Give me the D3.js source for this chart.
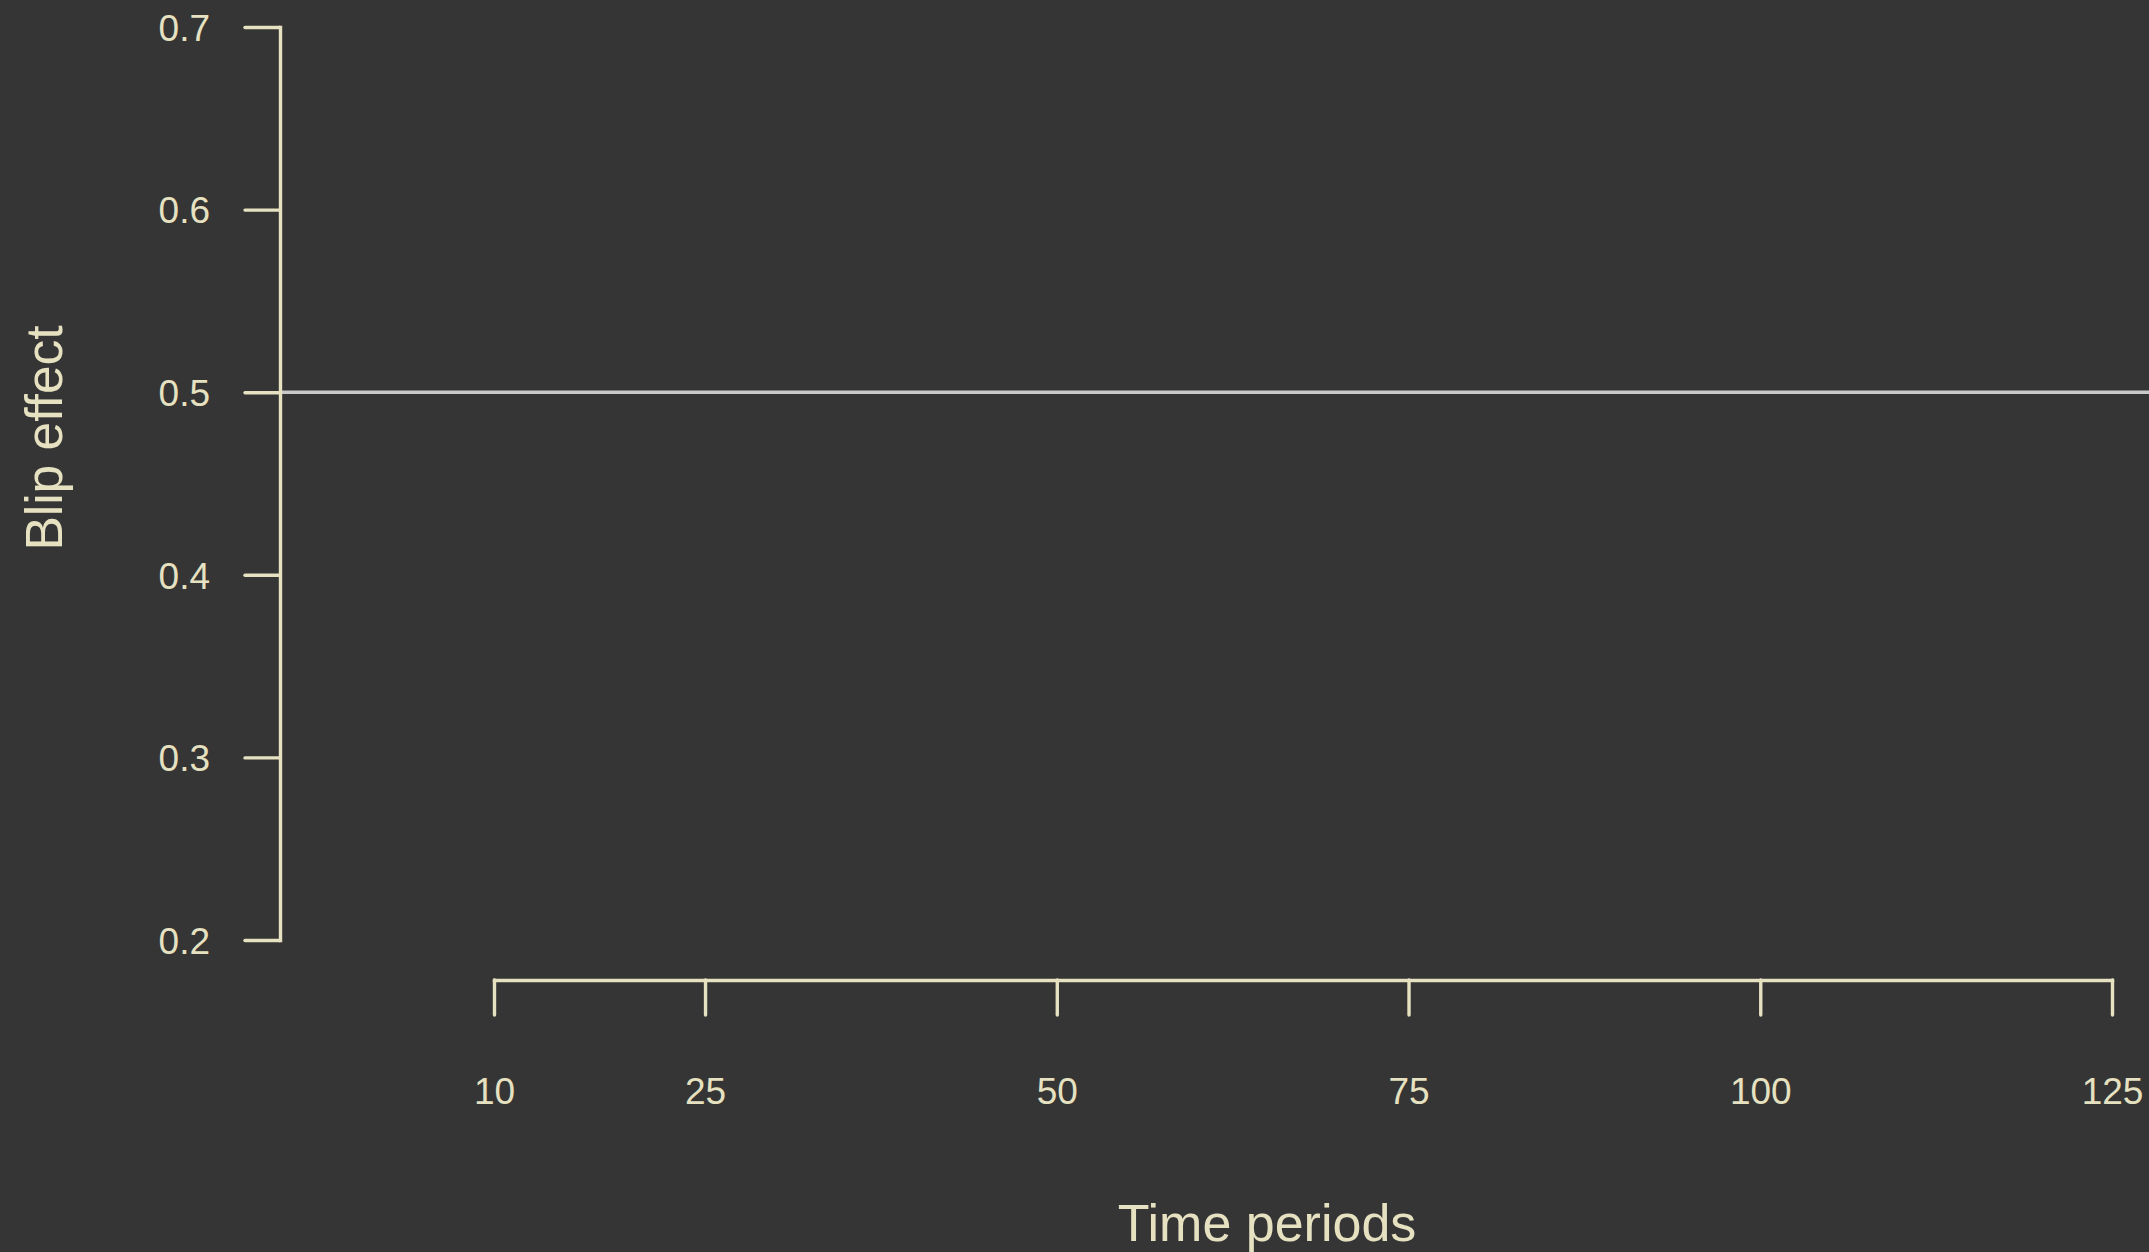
<!DOCTYPE html>
<html>
<head>
<meta charset="utf-8">
<script src="https://cdn.jsdelivr.net/npm/d3@7"></script>
<style>
  html, body { margin: 0; padding: 0; background: #353535; overflow: hidden; }
  svg { display: block; }
  text { font-family: "Liberation Sans", Arial, Helvetica, sans-serif; }
</style>
</head>
<body>
<svg id="chart" width="2149" height="1252"></svg>
<script>
// Axis ticks and the reference level
const xTicks = [10, 25, 50, 75, 100, 125];
const yTicks = [0.2, 0.3, 0.4, 0.5, 0.6, 0.7];
const yTickLabels = ["0.2", "0.3", "0.4", "0.5", "0.6", "0.7"];
const refLevel = [0.5];
const xTitle = "Time periods";
const yTitle = "Blip effect";

const W = 2149, H = 1252;
const ink = "#e6e1c0";
const refColor = "#c9c9c9";

const svg = d3.select("#chart");
svg.append("rect").attr("width", W).attr("height", H).attr("fill", "#353535");

const x = d3.scaleLinear().domain([10, 125]).range([494, 2112]);
const y = d3.scaleLinear().domain([0.2, 0.7]).range([940, 27]);

const yAxisX = 280;
const xAxisY = 980;

// Horizontal reference line
svg.selectAll("line.ref")
  .data(refLevel)
  .enter().append("line")
  .attr("class", "ref")
  .attr("x1", yAxisX).attr("x2", W)
  .attr("y1", d => y(d)).attr("y2", d => y(d))
  .attr("stroke", refColor)
  .attr("stroke-width", 3.5);

// Y axis
const gy = svg.append("g")
  .attr("transform", `translate(${yAxisX},0)`)
  .call(d3.axisLeft(y)
    .tickValues(yTicks)
    .tickFormat((d, i) => yTickLabels[i])
    .tickSize(35)
    .tickSizeOuter(0)
    .tickPadding(35));

// X axis
const gx = svg.append("g")
  .attr("transform", `translate(0,${xAxisY})`)
  .call(d3.axisBottom(x)
    .tickValues(xTicks)
    .tickFormat(d3.format("d"))
    .tickSize(35)
    .tickSizeOuter(0));

[gy, gx].forEach(g => {
  g.select(".domain").attr("stroke", ink).attr("stroke-width", 3.4).attr("stroke-linecap", "square");
  g.selectAll(".tick line").attr("stroke", ink).attr("stroke-width", 3.4).attr("stroke-linecap", "round");
  g.selectAll(".tick text")
    .attr("fill", ink)
    .attr("font-size", 37);
});

gy.selectAll(".tick text").attr("dy", "0.36em");
gx.selectAll(".tick text").attr("y", 124).attr("dy", 0);

// Axis titles
svg.append("text")
  .attr("x", 1267).attr("y", 1241)
  .attr("text-anchor", "middle")
  .attr("fill", ink)
  .attr("font-size", 52)
  .text(xTitle);

svg.append("text")
  .attr("transform", "translate(62,438) rotate(-90)")
  .attr("text-anchor", "middle")
  .attr("fill", ink)
  .attr("font-size", 51.5)
  .text(yTitle);
</script>
</body>
</html>
